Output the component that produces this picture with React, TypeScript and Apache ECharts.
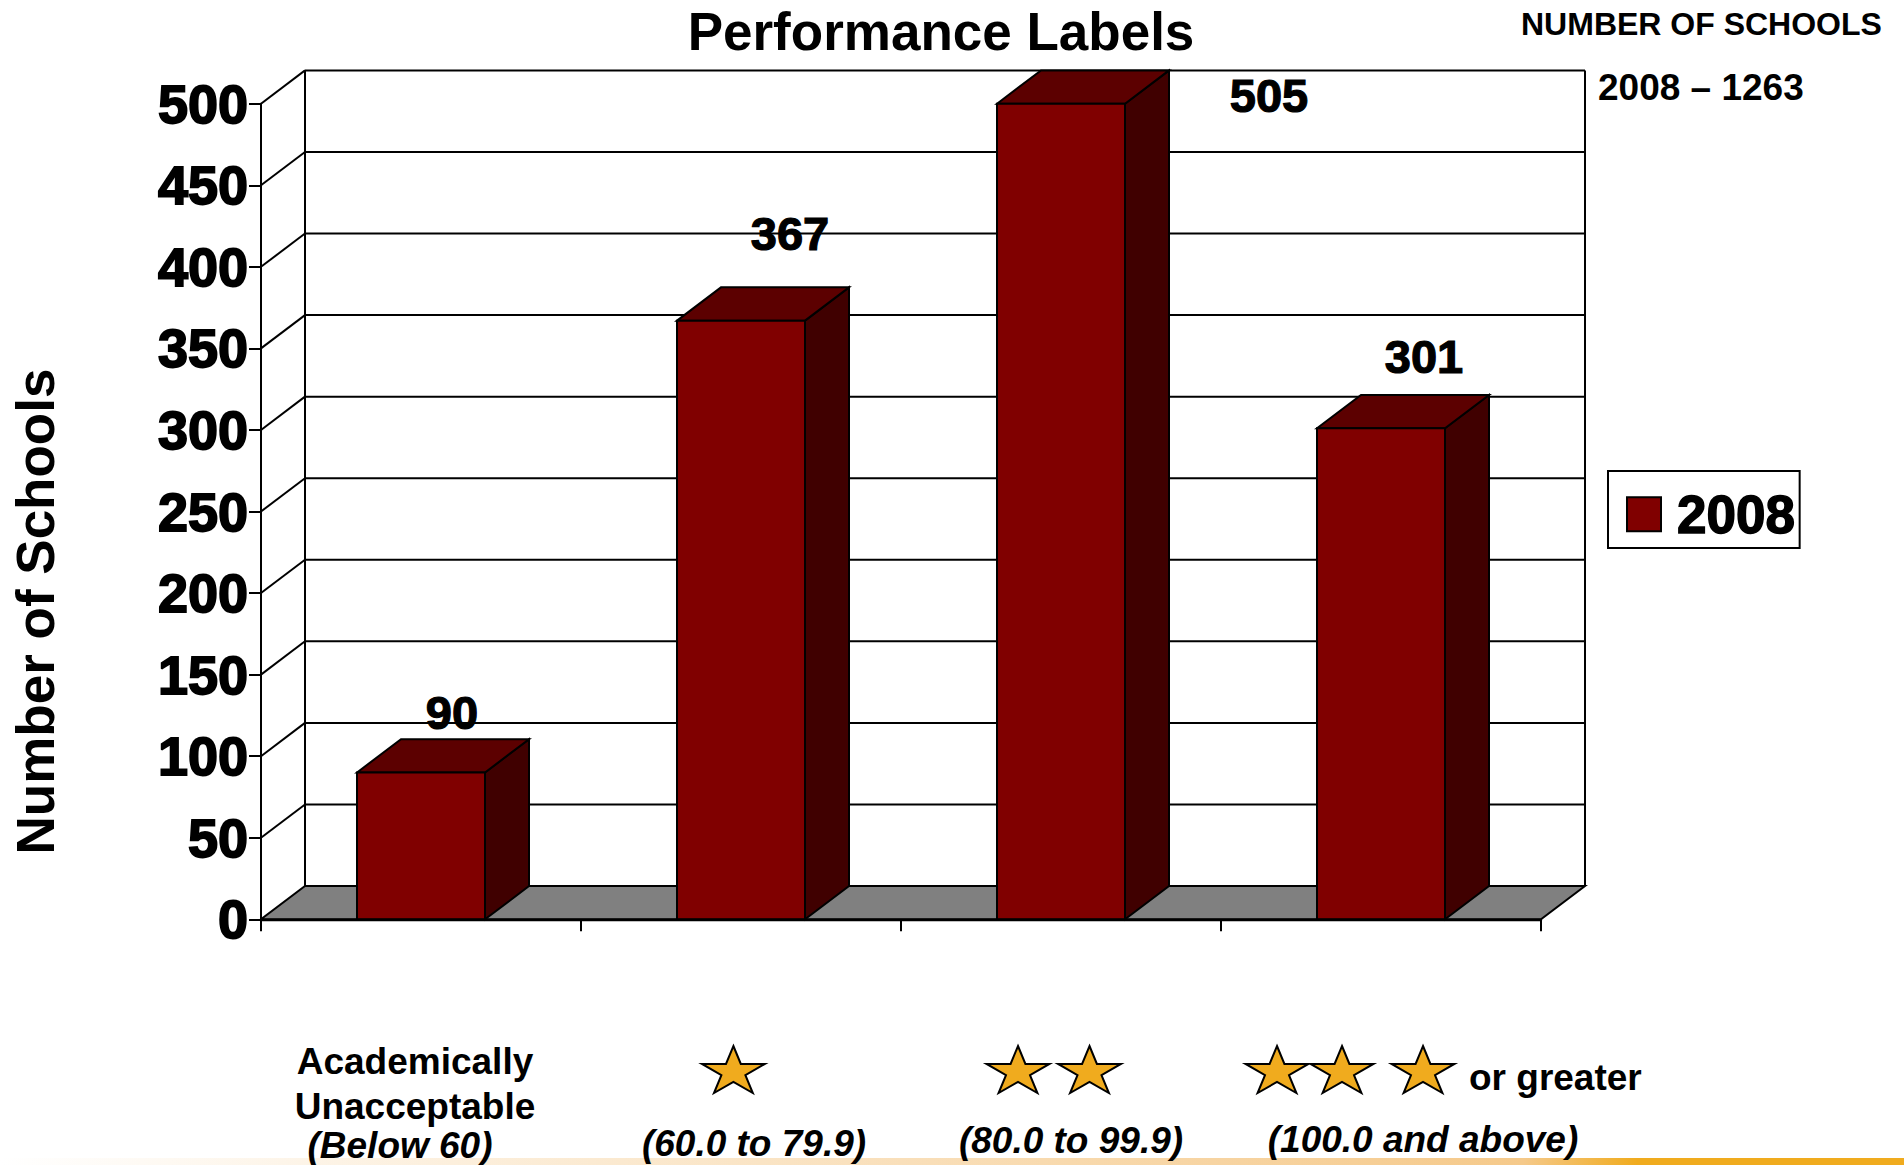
import React, { useEffect, useRef } from "react";
import * as echarts from "echarts";

const categories = ["Academically Unacceptable", "One Star", "Two Stars", "Three Stars or greater"];
const seriesName = "2008";
const values2008 = [90, 367, 505, 301];
const yTicks = [0, 50, 100, 150, 200, 250, 300, 350, 400, 450, 500];
const titleText = "Performance Labels";
const yAxisTitle = "Number of Schools";
const sideNoteTitle = "NUMBER OF SCHOOLS";
const sideNoteValue = "2008 – 1263";
const catLineOne = ["Academically", "Unacceptable"];
const catRanges = ["(Below 60)", "(60.0 to 79.9)", "(80.0 to 99.9)", "(100.0 and above)"];
const catSuffix = "or greater";

const FONT = '"Liberation Sans", Arial, sans-serif';
const Y_MAX = 500;
const DX = 44;
const DY = -33.3;
const LINE_W = 2;
const labelOffsets = [[31, -60], [49, -87], [208, -8], [43, -72]];
const starCentres = [733.4, 1018, 1089.5, 1277, 1342, 1423];

function starPoints(cx: number, cy: number) {
  const rx = 31.4 / Math.cos(Math.PI / 10);
  const ry = 26;
  const pts: number[][] = [];
  for (let i = 0; i < 10; i++) {
    const a = -Math.PI / 2 + (i * Math.PI) / 5;
    const k = i % 2 === 0 ? 1 : 0.382;
    pts.push([cx + rx * k * Math.cos(a), cy + ry * k * Math.sin(a)]);
  }
  return pts;
}

function renderWalls(params: any, api: any) {
  const v = api.value(0);
  const cs = params.coordSys;
  const y = api.coord([0, v])[1];
  const left = cs.x;
  const right = cs.x + cs.width;
  const line = { stroke: "#000", lineWidth: LINE_W, fill: "none" };
  const children: any[] = [];
  if (v === 0) {
    children.push({
      type: "polygon",
      shape: { points: [[left, y], [right, y], [right + DX, y + DY], [left + DX, y + DY]] },
      style: { fill: "#808080", stroke: "#000", lineWidth: LINE_W },
    });
    const topY = api.coord([0, Y_MAX])[1] + DY;
    children.push({ type: "line", shape: { x1: left + DX, y1: topY, x2: left + DX, y2: y + DY }, style: line });
    children.push({ type: "line", shape: { x1: right + DX, y1: topY, x2: right + DX, y2: y + DY }, style: line });
  } else {
    children.push({ type: "line", shape: { x1: left, y1: y, x2: left + DX, y2: y + DY }, style: line });
    children.push({ type: "line", shape: { x1: left + DX, y1: y + DY, x2: right + DX, y2: y + DY }, style: line });
  }
  return { type: "group", children };
}

function renderBar(params: any, api: any) {
  const i = api.value(0);
  const val = api.value(1);
  const top = api.coord([i, Math.min(val, Y_MAX)]);
  const base = api.coord([i, 0]);
  const w = api.size([1, 0])[0] * 0.4;
  const x0 = top[0] - w / 2;
  const x1 = top[0] + w / 2;
  const edge = { stroke: "#000", lineWidth: LINE_W };
  const off = labelOffsets[i];
  return {
    type: "group",
    children: [
      {
        type: "polygon",
        shape: { points: [[x1, top[1]], [x1 + DX, top[1] + DY], [x1 + DX, base[1] + DY], [x1, base[1]]] },
        style: { fill: "#400000", ...edge },
      },
      {
        type: "polygon",
        shape: { points: [[x0, top[1]], [x0 + DX, top[1] + DY], [x1 + DX, top[1] + DY], [x1, top[1]]] },
        style: { fill: "#5c0000", ...edge },
      },
      {
        type: "rect",
        shape: { x: x0, y: top[1], width: w, height: base[1] - top[1] },
        style: { fill: "#800000", ...edge },
      },
      {
        type: "text",
        x: top[0] + off[0],
        y: top[1] + off[1],
        style: {
          text: String(val),
          font: `bold 47px ${FONT}`,
          fill: "#000",
          stroke: "#000",
          lineWidth: 1.2,
          align: "center",
          verticalAlign: "middle",
        },
      },
    ],
  };
}

function bottomText(text: string, x: number, y: number, italic = false, size = 37, align = "center") {
  return {
    type: "text",
    x,
    y,
    z: 10,
    style: {
      text,
      font: `${italic ? "italic " : ""}bold ${size}px ${FONT}`,
      fill: "#000",
      align,
      verticalAlign: "middle",
    },
  };
}

export default function App() {
  const ref = useRef<HTMLDivElement>(null);
  useEffect(() => {
    if (!ref.current) return;
    const chart = echarts.init(ref.current, undefined, { renderer: "svg" });
    chart.setOption({
      animation: false,
      backgroundColor: "#fff",
      title: {
        text: titleText,
        left: 936,
        top: 0,
        textAlign: "center",
        textStyle: { fontFamily: FONT, fontWeight: "bold", fontSize: 53, color: "#000" },
      },
      legend: {
        data: [seriesName],
        left: 1608,
        top: 471,
        orient: "horizontal",
        padding: [16, 4, 6.5, 18],
        borderColor: "#000",
        borderWidth: 2,
        backgroundColor: "#fff",
        itemWidth: 34,
        itemHeight: 34,
        icon: "rect",
        itemStyle: { color: "#800000", borderColor: "#000", borderWidth: LINE_W },
        textStyle: {
          fontFamily: FONT,
          fontWeight: "bold",
          fontSize: 53,
          color: "#000",
          padding: [0, 0, 0, 11],
          textBorderColor: "#000",
          textBorderWidth: 1.5,
        },
      },
      grid: { left: 261, top: 103.7, width: 1280, height: 815.6, outerBoundsMode: "none" },
      xAxis: {
        type: "category",
        data: categories,
        z: 5,
        axisLine: { lineStyle: { color: "#000", width: 2.4 } },
        axisTick: { show: true, length: 12, lineStyle: { color: "#000", width: LINE_W } },
        axisLabel: { show: false },
        splitLine: { show: false },
      },
      yAxis: {
        type: "value",
        min: 0,
        max: Y_MAX,
        interval: 50,
        z: 5,
        name: yAxisTitle,
        nameLocation: "middle",
        nameGap: 199,
        nameRotate: 90,
        nameTextStyle: {
          fontFamily: FONT,
          fontWeight: "bold",
          fontSize: 53,
          color: "#000",
          padding: [0, 200, 0, 0],
        },
        axisLine: { show: true, lineStyle: { color: "#000", width: LINE_W } },
        axisTick: { show: true, length: 12, lineStyle: { color: "#000", width: LINE_W } },
        axisLabel: {
          margin: 13,
          fontFamily: FONT,
          fontWeight: "bold",
          fontSize: 54,
          color: "#000",
          padding: [0, 0, 5, 0],
          textBorderColor: "#000",
          textBorderWidth: 1.8,
        },
        splitLine: { show: false },
      },
      series: [
        {
          type: "custom",
          name: "walls",
          coordinateSystem: "cartesian2d",
          renderItem: renderWalls,
          encode: { y: 0 },
          data: yTicks.map((v) => [v]),
          silent: true,
          z: 1,
        },
        {
          type: "custom",
          name: seriesName,
          coordinateSystem: "cartesian2d",
          renderItem: renderBar,
          encode: { x: 0, y: 1 },
          itemStyle: { color: "#800000" },
          data: values2008.map((v, i) => [i, v]),
          z: 2,
        },
      ],
      graphic: [
        {
          type: "rect",
          z: 1,
          shape: { x: 0, y: 1158, width: 1904, height: 7 },
          style: {
            fill: new echarts.graphic.LinearGradient(0, 0, 1, 0, [
              { offset: 0, color: "#ffffff" },
              { offset: 0.8, color: "#F5C98A" },
              { offset: 0.86, color: "#F0AB1E" },
              { offset: 1, color: "#F0AB1E" },
            ]),
          },
        },
        bottomText(sideNoteTitle, 1521, 24, false, 32, "left"),
        bottomText(sideNoteValue, 1598, 87, false, 37, "left"),
        bottomText(catLineOne[0], 415, 1061),
        bottomText(catLineOne[1], 415, 1106),
        bottomText(catRanges[0], 400, 1145, true, 37),
        bottomText(catRanges[1], 754, 1143, true, 37),
        bottomText(catRanges[2], 1071, 1140, true, 37),
        bottomText(catRanges[3], 1423, 1139, true, 37),
        bottomText(catSuffix, 1469, 1077, false, 37, "left"),
        ...starCentres.map((cx) => ({
          type: "polygon",
          z: 10,
          shape: { points: starPoints(cx, 1072) },
          style: { fill: "#F0AB1E", stroke: "#000", lineWidth: LINE_W },
        })),
      ],
    });
    return () => chart.dispose();
  }, []);
  return <div ref={ref} style={{ position: "fixed", left: 0, top: 0, width: 1904, height: 1165 }} />;
}
